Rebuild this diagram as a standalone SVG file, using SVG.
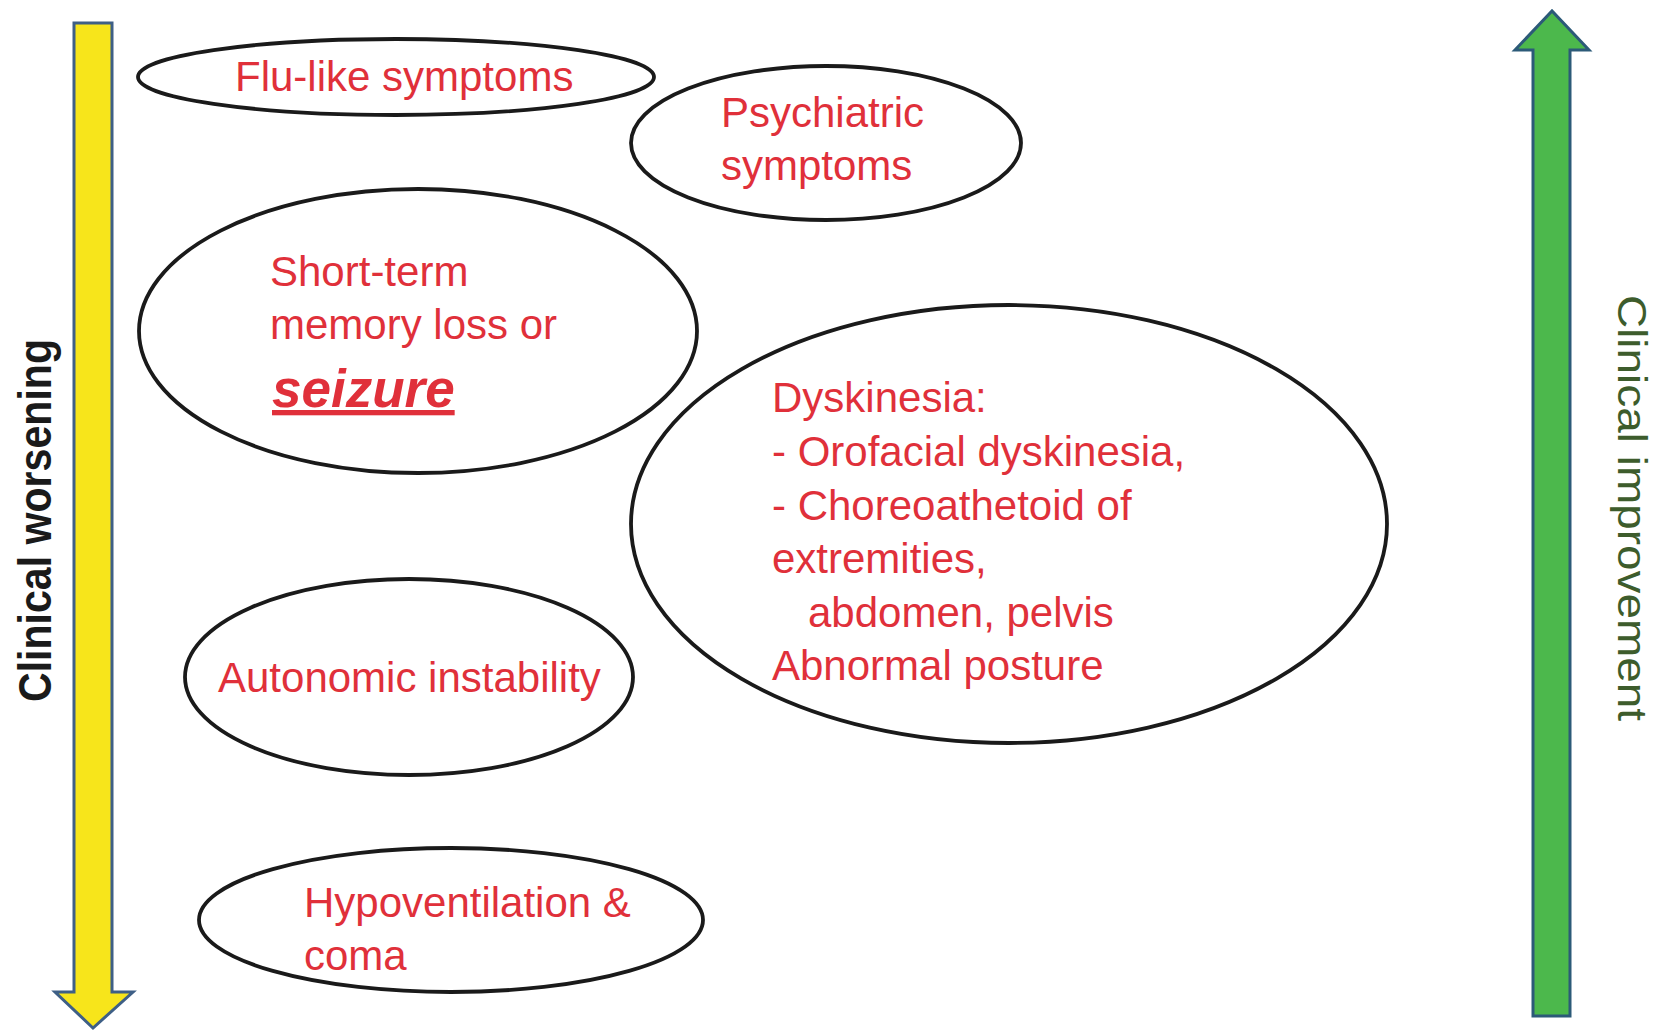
<svg xmlns="http://www.w3.org/2000/svg" width="1663" height="1032" viewBox="0 0 1663 1032">
<style>
.bg{fill:#ffffff}
.node ellipse{fill:none;stroke:#1a1a1a;stroke-width:3.8}
.lbl{font-family:"Liberation Sans",Arial,sans-serif;font-size:42px;fill:#e0303a}
.big{font-size:53px;font-weight:bold;font-style:italic;text-decoration:underline}
.axis{font-family:"Liberation Sans",Arial,sans-serif;fill:#1a1a1a}
</style>
<rect class="bg" x="0" y="0" width="1663" height="1032"/>
<g id="connectors">
  <path id="worsening-arrow" d="M74,23 L112,23 L112,992 L133,992 L93,1028 L55,992 L74,992 Z" fill="#f7e51b" stroke="#3e5f86" stroke-width="3"/>
  <path id="improvement-arrow" d="M1533,1016 L1570,1016 L1570,50 L1589,50 L1552,11 L1515,50 L1533,50 Z" fill="#4cb84c" stroke="#2c5a78" stroke-width="3"/>
</g>
<g id="label-worsening">
  <text class="axis" font-weight="bold" font-size="47" transform="translate(51,702) rotate(-90)" textLength="363" lengthAdjust="spacingAndGlyphs">Clinical worsening</text>
</g>
<g id="label-improvement">
  <text class="axis" font-size="41" style="fill:#3d5c2c" transform="translate(1618,295) rotate(90)" textLength="426" lengthAdjust="spacingAndGlyphs">Clinical improvement</text>
</g>
<g id="node-flu" class="node">
  <ellipse cx="396" cy="77" rx="258" ry="38"/>
  <text class="lbl" x="235" y="91">Flu-like symptoms</text>
</g>
<g id="node-psychiatric" class="node">
  <ellipse cx="826" cy="143" rx="195" ry="77"/>
  <text class="lbl" x="721" y="127">Psychiatric</text>
  <text class="lbl" x="721" y="180">symptoms</text>
</g>
<g id="node-memory" class="node">
  <ellipse cx="418" cy="331" rx="279" ry="142"/>
  <text class="lbl" x="270" y="286">Short-term</text>
  <text class="lbl" x="270" y="339">memory loss or</text>
  <text class="lbl big" x="272" y="407">seizure</text>
</g>
<g id="node-dyskinesia" class="node">
  <ellipse cx="1009" cy="524" rx="378" ry="219"/>
  <text class="lbl" x="772" y="412">Dyskinesia:</text>
  <text class="lbl" x="772" y="466">- Orofacial dyskinesia,</text>
  <text class="lbl" x="772" y="520">- Choreoathetoid of</text>
  <text class="lbl" x="772" y="573">extremities,</text>
  <text class="lbl" x="808" y="627">abdomen, pelvis</text>
  <text class="lbl" x="772" y="680">Abnormal posture</text>
</g>
<g id="node-autonomic" class="node">
  <ellipse cx="409" cy="677" rx="224" ry="98"/>
  <text class="lbl" x="218" y="692">Autonomic instability</text>
</g>
<g id="node-hypoventilation" class="node">
  <ellipse cx="451" cy="920" rx="252" ry="72"/>
  <text class="lbl" x="304" y="917">Hypoventilation &amp;</text>
  <text class="lbl" x="304" y="970">coma</text>
</g>
</svg>
